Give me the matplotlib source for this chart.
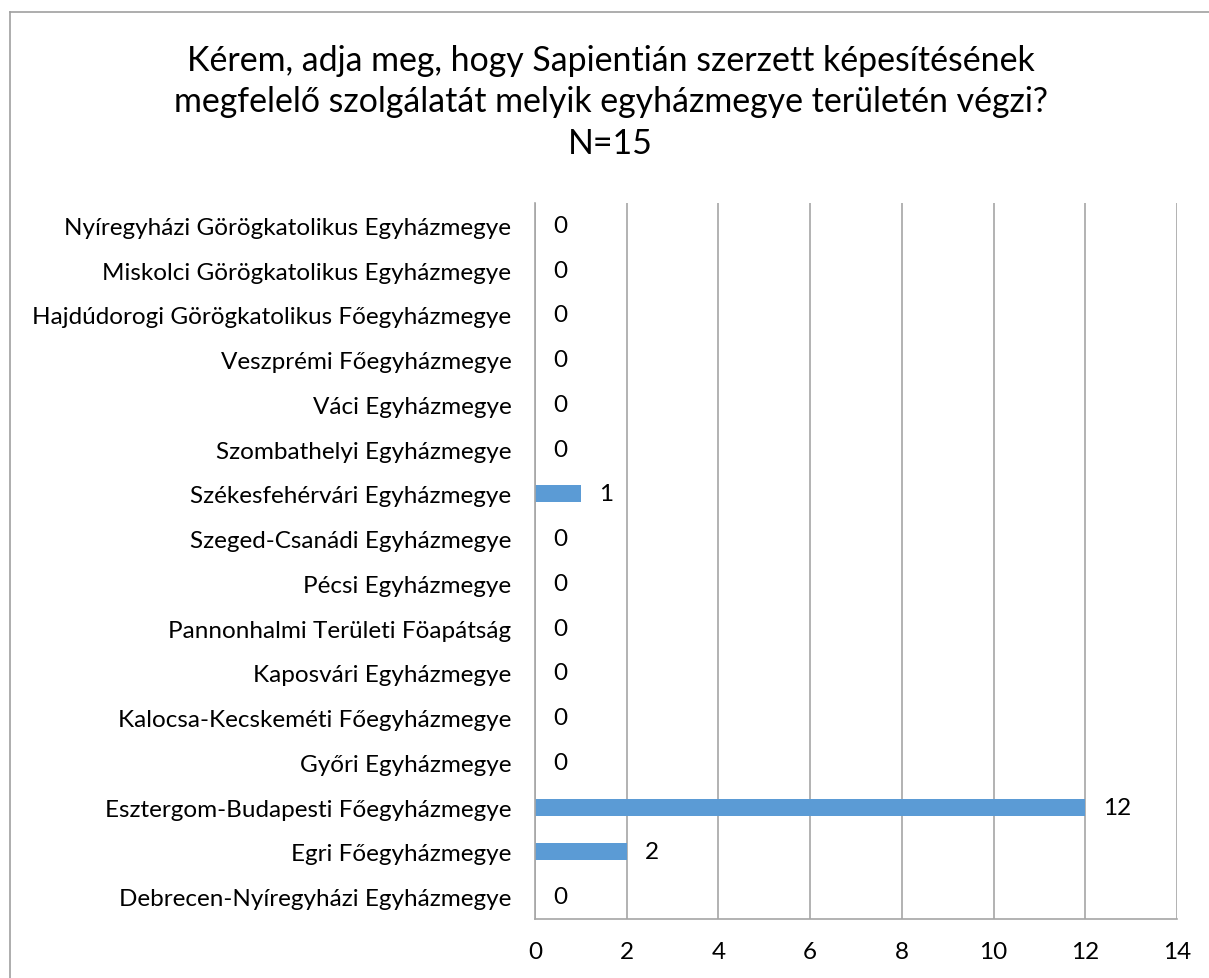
import matplotlib.pyplot as plt
from matplotlib.lines import Line2D

# categories listed bottom to top, as drawn
categories = [
    'Debrecen-Nyíregyházi Egyházmegye',
    'Egri Főegyházmegye',
    'Esztergom-Budapesti Főegyházmegye',
    'Győri Egyházmegye',
    'Kalocsa-Kecskeméti Főegyházmegye',
    'Kaposvári Egyházmegye',
    'Pannonhalmi Területi Föapátság',
    'Pécsi Egyházmegye',
    'Szeged-Csanádi Egyházmegye',
    'Székesfehérvári Egyházmegye',
    'Szombathelyi Egyházmegye',
    'Váci Egyházmegye',
    'Veszprémi Főegyházmegye',
    'Hajdúdorogi Görögkatolikus Főegyházmegye',
    'Miskolci Görögkatolikus Egyházmegye',
    'Nyíregyházi Görögkatolikus Egyházmegye',
]
values = [0, 2, 12, 0, 0, 0, 0, 0, 0, 1, 0, 0, 0, 0, 0, 0]
x_ticks = [0, 2, 4, 6, 8, 10, 12, 14]

title = ('Kérem, adja meg, hogy Sapientián szerzett képesítésének\n'
         'megfelelő szolgálatát melyik egyházmegye területén végzi?\n'
         'N=15')

plt.rcParams['font.family'] = ['Lato', 'DejaVu Sans']

fig = plt.figure(figsize=(12.09, 9.79), dpi=100)
ax = fig.add_axes([0.4425, 0.0603, 0.531, 0.7313])

bar_color = '#5B9BD5'
grid_color = '#A6A6A6'
fs = 17.5

y = range(len(categories))
ax.barh(y, values, height=0.38, color=bar_color, zorder=3)

for yi, v in zip(y, values):
    ax.annotate(str(v), (v, yi), xytext=(18, 0), textcoords='offset pixels',
                ha='left', va='center', fontsize=fs, color='black')

ax.set_xlim(0, 14)
ax.set_ylim(-0.5, len(categories) - 0.5)
ax.set_xticks(x_ticks)
ax.set_yticks(list(y))
ax.set_yticklabels(categories)
ax.tick_params(axis='both', length=0, labelsize=fs, colors='black')
ax.tick_params(axis='x', pad=16)
ax.tick_params(axis='y', pad=17)

ax.xaxis.grid(True, color=grid_color, linewidth=1.2, zorder=0)
for side in ['top', 'right']:
    ax.spines[side].set_visible(False)
for side in ['left', 'bottom']:
    ax.spines[side].set_color(grid_color)
    ax.spines[side].set_linewidth(1.2)
    ax.spines[side].set_zorder(4)

fig.text(0.505, 1 - 45 / 979, title, ha='center', va='top', fontsize=24.4,
         linespacing=1.36)

# outer chart frame
W, H = 1209, 979
fig.add_artist(Line2D([10 / W, 10 / W], [0, 1 - 13 / H], color='#A0A0A0', lw=1.2))
fig.add_artist(Line2D([10 / W, 1], [1 - 13 / H, 1 - 13 / H], color='#A0A0A0', lw=1.2))

fig.savefig('out.png', dpi=100)
